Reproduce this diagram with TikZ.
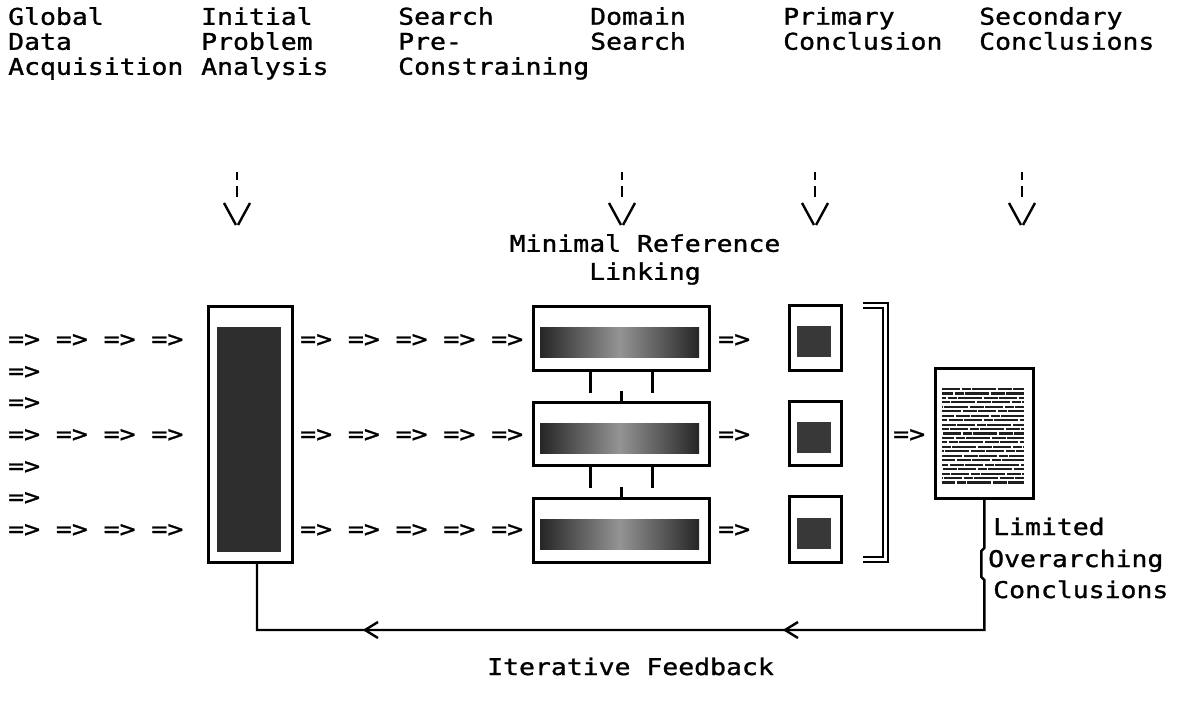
\documentclass[tikz,border=0pt]{standalone}
\usepackage{fontspec}
\newfontfamily\dmono[FakeStretch=1.15, FakeBold=1.2]{DejaVu Sans Mono}
\begin{document}
\begin{tikzpicture}[x=1pt,y=-1pt,
  txt/.style={font=\dmono\fontsize{23}{25}\selectfont, inner sep=0pt, anchor=base west},
  hdr/.style={font=\dmono\fontsize{23}{25}\selectfont, inner sep=0pt, anchor=north west, align=left},
  box/.style={draw, line width=2.8pt, fill=white, inner sep=0pt, anchor=north west},
  lnk/.style={line width=2.6pt},
  dark/.style={fill=black!82},
  grad/.style={left color=black!85, right color=black!85, middle color=black!42},
  thin/.style={line width=2.4pt}
]
\useasboundingbox (0,0) rectangle (1191,704);

% headers
\node[hdr] (h1) at (8,7)   {Global\\Data\\Acquisition};
\node[hdr] (h2) at (201,7) {Initial\\Problem\\Analysis};
\node[hdr] (h3) at (398,7) {Search\\Pre-\\Constraining};
\node[hdr] (h4) at (590,7) {Domain\\Search};
\node[hdr] (h5) at (783,7) {Primary\\Conclusion};
\node[hdr] (h6) at (979,7) {Secondary\\Conclusions};

% down arrows
\foreach \x in {237,622,815,1022}{
  \draw[thin] (\x,172) -- (\x,180);
  \draw[thin] (\x,186) -- (\x,197);
  \draw[thin] (\x-13,203) -- (\x-1,225);
  \draw[thin] (\x+13,203) -- (\x+1,225);
}

\node[font=\dmono\fontsize{23}{28}\selectfont, inner sep=0pt, align=center, anchor=north] (mrl) at (645,234) {Minimal Reference\\Linking};

% left arrow rows
\node[txt] (l1) at (8,347) {=> => => =>};
\node[txt] (l2) at (8,379) {=>};
\node[txt] (l3) at (8,410) {=>};
\node[txt] (l4) at (8,442) {=> => => =>};
\node[txt] (l5) at (8,474) {=>};
\node[txt] (l6) at (8,505) {=>};
\node[txt] (l7) at (8,537) {=> => => =>};

% tall box
\node[box, minimum width=84pt, minimum height=256pt] (tall) at (207,305) {};
\fill[dark] (217,327) rectangle (281,552);

% middle arrow rows
\node[txt] (c1) at (300,347) {=> => => => =>};
\node[txt] (c2) at (300,442) {=> => => => =>};
\node[txt] (c3) at (300,537) {=> => => => =>};

% middle boxes
\node[box, minimum width=176pt, minimum height=64pt] (m1) at (532,305) {};
\node[box, minimum width=176pt, minimum height=63pt] (m2) at (532,401) {};
\node[box, minimum width=176pt, minimum height=64pt] (m3) at (532,497) {};
\shade[grad] (540,327) rectangle (699,357);
\shade[grad] (540,423) rectangle (699,453);
\shade[grad] (540,519) rectangle (699,549);

% links between middle boxes
\draw[lnk] ([xshift=-31pt]m1.south) -- ++(0,21);
\draw[lnk] ([xshift=31pt]m1.south) -- ++(0,21);
\draw[lnk] (m2.north) -- ++(0,-10);
\draw[lnk] ([xshift=-31pt]m2.south) -- ++(0,21);
\draw[lnk] ([xshift=31pt]m2.south) -- ++(0,21);
\draw[lnk] (m3.north) -- ++(0,-10);

% arrows to small boxes
\node[txt] (s1a) at (718,347) {=>};
\node[txt] (s2a) at (718,442) {=>};
\node[txt] (s3a) at (718,537) {=>};

% small boxes
\node[box, minimum width=52pt, minimum height=65pt] (p1) at (788,304) {};
\node[box, minimum width=52pt, minimum height=64pt] (p2) at (788,400) {};
\node[box, minimum width=52pt, minimum height=66pt] (p3) at (788,495) {};
\fill[fill=black!78] (797,326) rectangle (831,357);
\fill[fill=black!78] (797,422) rectangle (831,453);
\fill[fill=black!78] (797,518) rectangle (831,549);

% double bracket
\coordinate (bo1) at (863,303);
\coordinate (bo2) at (888,303);
\coordinate (bo3) at (888,562);
\coordinate (bo4) at (863,562);
\coordinate (bi1) at (863,308);
\coordinate (bi2) at (883,308);
\coordinate (bi3) at (883,557);
\coordinate (bi4) at (863,557);
\draw[line width=2.2pt] (bo1) -- (bo2) -- (bo3) -- (bo4);
\draw[line width=2.2pt] (bi1) -- (bi2) -- (bi3) -- (bi4);
\node[txt] (ba) at (893,442) {=>};

% document box
\node[box, minimum width=98pt, minimum height=130pt] (doc) at (934,367) {};
\foreach \i in {0,...,21}{
  \draw[line width=2.1pt, black!88, dash pattern=on 18pt off 1.5pt on 9pt off 1.5pt on 24pt off 1.5pt on 14pt off 1.5pt, dash phase=\i*7pt]
    (942,389+4.45*\i) -- (1024,389+4.45*\i);
}

% conclusions label
\node[txt] (lim1) at (993,535) {Limited};
\node[txt] (lim2) at (988,567) {Overarching};
\node[txt] (lim3) at (993,598) {Conclusions};

% feedback loop
\coordinate (j1) at (doc.south |- 0,548);
\coordinate (j2) at ([xshift=-3pt]j1 |- 0,551);
\coordinate (j3) at ([xshift=-3pt]j1 |- 0,577);
\coordinate (j4) at (doc.south |- 0,580);
\coordinate (fbR) at (doc.south |- 0,630);
\coordinate (fbL) at (257,630);
\coordinate (tb) at (257,561);
\draw[thin] (doc.south) -- (j1) -- (j2) -- (j3) -- (j4) -- (fbR) -- (fbL) -- (tb);
\foreach \x in {365,785}{
  \draw[thin] (\x+13,622) -- (\x,630) -- (\x+13,638);
}
\node[txt] (fb) at (487,675) {Iterative Feedback};
\end{tikzpicture}
\end{document}
